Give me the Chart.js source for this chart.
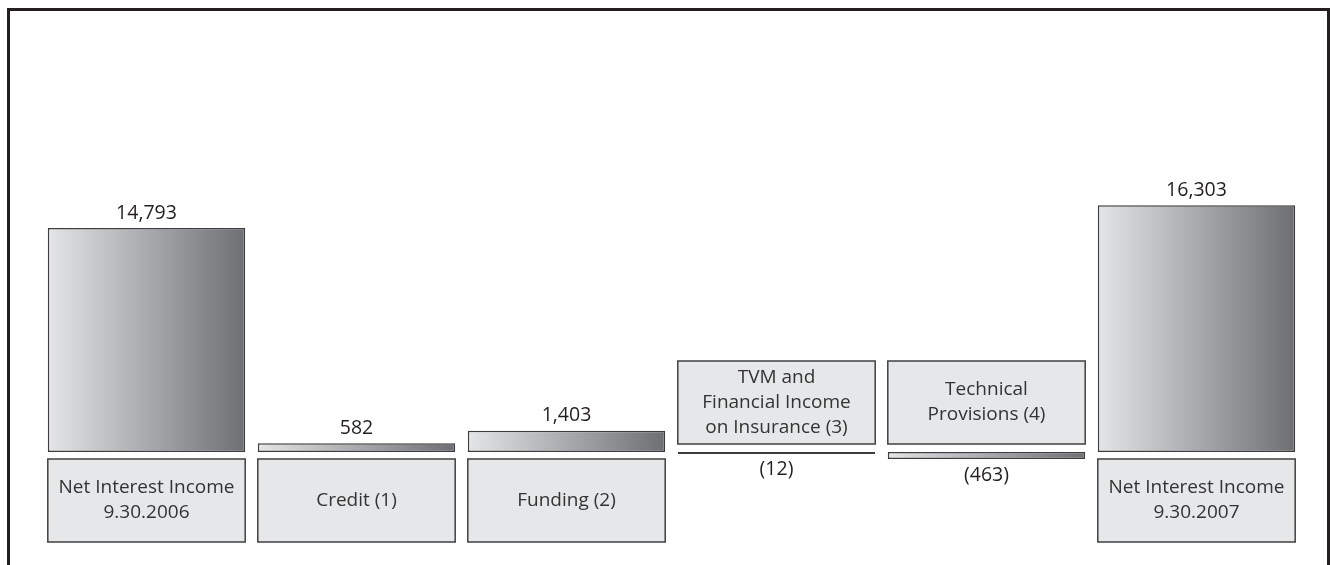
<!DOCTYPE html>
<html>
<head>
<meta charset="utf-8">
<script src="https://cdn.jsdelivr.net/npm/chart.js@4.4.0/dist/chart.umd.min.js"></script>
<style>
  html, body { margin: 0; padding: 0; background: #fff; }
  #wrap { position: relative; width: 1330px; height: 565px; }
  #frame {
    position: absolute; left: 7px; top: 8px; width: 1317px; height: 560px;
    border-left: 3px solid #231f20; border-top: 3px solid #231f20; border-right: 3px solid #231f20;
  }
  canvas { position: absolute; left: 0; top: 0; }
</style>
</head>
<body>
<div id="wrap">
  <div id="frame"></div>
  <canvas id="chart" width="1330" height="565"></canvas>
</div>
<script>
const categories = [
  ["Net Interest Income", "9.30.2006"],
  ["Credit (1)"],
  ["Funding (2)"],
  ["TVM and", "Financial Income", "on Insurance (3)"],
  ["Technical", "Provisions (4)"],
  ["Net Interest Income", "9.30.2007"]
];
const values = [14793, 582, 1403, -12, -463, 16303];

const FONT = '"Open Sans", "DejaVu Sans", sans-serif';
const BAR_PCT = 0.94;

function fmt(v) {
  const s = Math.abs(v).toLocaleString("en-US");
  return v < 0 ? "(" + s + ")" : s;
}

function barGradient(c) {
  const chart = c.chart;
  const xs = chart.scales.x;
  if (!xs || !chart.chartArea) return "#b0b1b4";
  const cx = xs.getPixelForValue(c.dataIndex);
  const half = (xs.width / values.length) * BAR_PCT / 2;
  const g = chart.ctx.createLinearGradient(cx - half, 0, cx + half, 0);
  g.addColorStop(0, "#e4e5e7");
  g.addColorStop(1, "#6e6f73");
  return g;
}

const labelBoxes = {
  id: "labelBoxes",
  afterDatasetsDraw(chart) {
    const ctx = chart.ctx;
    const xs = chart.scales.x, ys = chart.scales.y;
    const base = ys.getPixelForValue(0);
    const half = (xs.width / values.length) * BAR_PCT / 2;
    ctx.save();
    ctx.textAlign = "center";
    ctx.textBaseline = "middle";
    values.forEach((v, i) => {
      const cx = xs.getPixelForValue(i);
      const y = ys.getPixelForValue(v);
      // category box
      let top, bottom;
      if (v >= 0) { top = base + 7; bottom = base + 90; }
      else { top = base - 91; bottom = base - 8; }
      ctx.fillStyle = "#e6e7e8";
      ctx.fillRect(cx - half, top, half * 2, bottom - top);
      ctx.strokeStyle = "#404041";
      ctx.lineWidth = 1.5;
      ctx.strokeRect(cx - half, top, half * 2, bottom - top);
      ctx.fillStyle = "#333";
      ctx.font = "19px " + FONT;
      const lines = categories[i];
      const lh = 25;
      const mid = (top + bottom) / 2;
      lines.forEach((t, k) => {
        ctx.fillText(t, cx, mid + (k - (lines.length - 1) / 2) * lh);
      });
      // value label
      ctx.fillStyle = "#231f20";
      ctx.font = "19.5px " + FONT;
      if (v >= 0) ctx.fillText(fmt(v), cx, Math.min(y, base) - 15);
      else ctx.fillText(fmt(v), cx, Math.max(y, base + 1) + 16);
    });
    ctx.restore();
  }
};

new Chart(document.getElementById("chart"), {
  type: "bar",
  data: {
    labels: categories.map(c => c.join(" ")),
    datasets: [{
      data: values,
      backgroundColor: barGradient,
      borderColor: "#3d3d3f",
      borderWidth: 1.5,
      borderSkipped: false,
      minBarLength: 2,
      barPercentage: BAR_PCT,
      categoryPercentage: 1
    }]
  },
  options: {
    responsive: false,
    animation: false,
    layout: { padding: { left: 41.5, right: 28.5, top: 28, bottom: 7 } },
    scales: {
      x: { display: false },
      y: { display: false, min: -7000, max: 28000 }
    },
    plugins: {
      legend: { display: false },
      tooltip: { enabled: false }
    }
  },
  plugins: [labelBoxes]
});
</script>
</body>
</html>
